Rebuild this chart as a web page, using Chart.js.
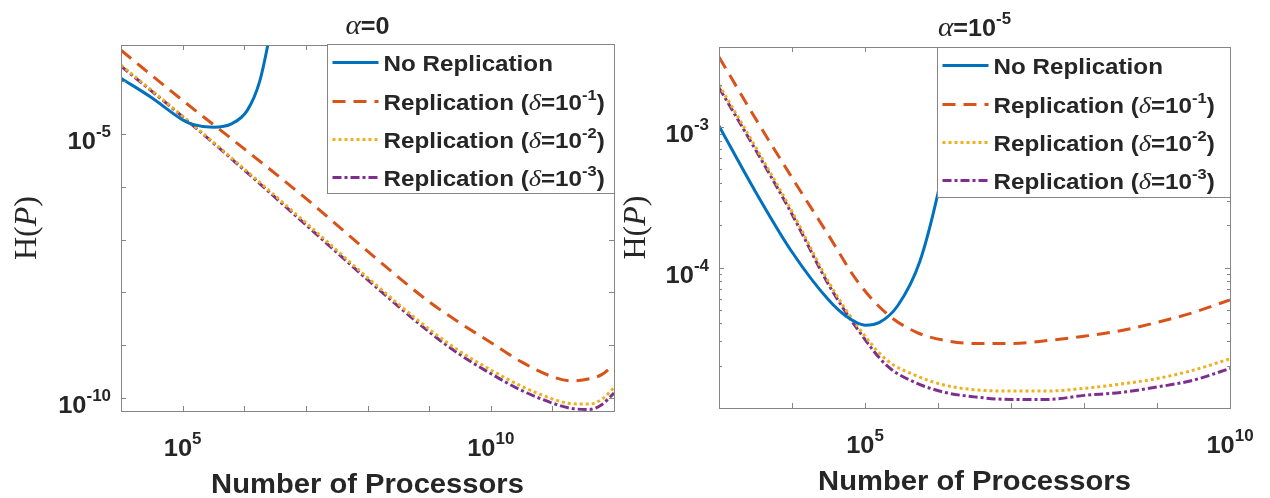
<!DOCTYPE html>
<html>
<head>
<meta charset="utf-8">
<script src="https://cdn.jsdelivr.net/npm/chart.js@4.4.0/dist/chart.umd.min.js"></script>
<style>
  html, body { margin: 0; padding: 0; background: #fff; }
  body { width: 1270px; height: 498px; position: relative; overflow: hidden; }
  canvas { position: absolute; top: 0; }
  #leftChart { left: 0; }
  #rightChart { left: 600px; }
</style>
</head>
<body>
<canvas id="leftChart" width="635" height="498"></canvas>
<canvas id="rightChart" width="670" height="498"></canvas>
<script>
// alpha = 0 (left panel)
const leftNoRepX = [1e4, 3.16e4, 1e5, 1.41e5, 3.16e5, 6.31e5, 1.12e6, 1.78e6, 2.51e6, 3.16e6];
const leftNoRepY = [1.15e-4, 4.9e-5, 1.86e-5, 1.55e-5, 1.35e-5, 1.58e-5, 2.82e-5, 1e-4, 6.31e-4, 3.16e-3];
const leftRepX = [1e4, 1e5, 1e6, 1e7, 1e8, 1e9, 3.16e9, 1e10, 3.16e10, 1e11, 2e11, 3.98e11, 6.31e11, 1e12];
const leftRep1Y = [3.89e-4, 4.37e-5, 5.25e-6, 6.03e-7, 6.03e-8, 6.61e-9, 2.63e-9, 1.12e-9, 4.79e-10, 2.51e-10, 2.09e-10, 2.29e-10, 2.75e-10, 4.27e-10];
const leftRep2Y = [2.04e-4, 2.19e-5, 2.19e-6, 2.09e-7, 1.91e-8, 2.0e-9, 7.59e-10, 3.39e-10, 1.66e-10, 9.55e-11, 7.76e-11, 7.59e-11, 9.33e-11, 1.55e-10];
const leftRep3Y = [1.95e-4, 2.14e-5, 2.09e-6, 1.91e-7, 1.74e-8, 1.78e-9, 6.61e-10, 2.88e-10, 1.38e-10, 7.94e-11, 6.31e-11, 6.03e-11, 7.41e-11, 1.23e-10];

// alpha = 1e-5 (right panel)
const rightNoRepX = [1e3, 3.16e3, 1e4, 3.16e4, 5.62e4, 1e5, 1.58e5, 2.82e5, 5.62e5, 1e6, 1.58e6, 2.51e6];
const rightNoRepY = [1.02e-3, 3.47e-4, 1.29e-4, 5.89e-5, 4.47e-5, 3.89e-5, 4.07e-5, 5.37e-5, 1.10e-4, 3.39e-4, 1.12e-3, 4.47e-3];
const rightRepX = [1e3, 3.16e3, 1e4, 3.16e4, 7.94e4, 2e5, 5.01e5, 1.26e6, 3.16e6, 1e7, 3.16e7, 1e8, 3.16e8, 1e9, 3.16e9, 1e10];
const rightRep1Y = [3.16e-3, 1.15e-3, 4.37e-4, 1.70e-4, 7.94e-5, 4.68e-5, 3.47e-5, 3.02e-5, 2.88e-5, 2.88e-5, 3.02e-5, 3.24e-5, 3.55e-5, 4.07e-5, 4.79e-5, 5.89e-5];
const rightRep2Y = [2.0e-3, 7.24e-4, 2.51e-4, 7.94e-5, 3.80e-5, 2.19e-5, 1.70e-5, 1.45e-5, 1.35e-5, 1.32e-5, 1.32e-5, 1.38e-5, 1.48e-5, 1.62e-5, 1.86e-5, 2.24e-5];
const rightRep3Y = [1.91e-3, 6.92e-4, 2.40e-4, 7.59e-5, 3.63e-5, 2.0e-5, 1.51e-5, 1.29e-5, 1.20e-5, 1.15e-5, 1.15e-5, 1.23e-5, 1.29e-5, 1.41e-5, 1.58e-5, 1.91e-5];

// axes limits and ticks
const leftXLimits = [1e4, 1e12];
const leftYLimits = [5.62e-11, 4.9e-4];
const leftXTicks = [1e4, 1e5, 1e6, 1e7, 1e8, 1e9, 1e10, 1e11, 1e12];
const leftYTicks = [1e-10, 1e-9, 1e-8, 1e-7, 1e-6, 1e-5, 1e-4];
const leftXLabels = [[1e5, '5'], [1e10, '10']];
const leftYLabels = [[1e-5, '-5'], [1e-10, '-10']];

const rightXLimits = [1e3, 1e10];
const rightYLimits = [1e-5, 3.72e-3];
const rightXTicks = [1e3, 1e4, 1e5, 1e6, 1e7, 1e8, 1e9, 1e10];
const rightYTicks = [1e-5, 1e-4, 1e-3];
const rightYMinor = [2e-5, 3e-5, 4e-5, 5e-5, 6e-5, 7e-5, 8e-5, 9e-5, 2e-4, 3e-4, 4e-4, 5e-4, 6e-4, 7e-4, 8e-4, 9e-4, 2e-3, 3e-3];
const rightXLabels = [[1e5, '5'], [1e10, '10']];
const rightYLabels = [[1e-3, '-3'], [1e-4, '-4']];

const deltaExps = ['-1', '-2', '-3'];

const BLUE = '#0072BD', ORANGE = '#D95319', YELLOW = '#EDB120', PURPLE = '#7E2F8E';
const AXIS = '#858585', TEXT = '#262626';
const SANS = '"Liberation Sans", Arial, sans-serif';
const SERIF = '"Liberation Serif", "Times New Roman", serif';
const styles = [
    { color: BLUE, dash: [] },
    { color: ORANGE, dash: [13, 8] },
    { color: YELLOW, dash: [3, 3] },
    { color: PURPLE, dash: [9, 3, 3, 3] }
];

function points(xs, ys) {
    return xs.map((x, i) => ({ x: x, y: ys[i] }));
}

function drawRich(ctx, runs, x, y, align, sx) {
    sx = sx || 1;
    let w = 0;
    runs.forEach(r => { ctx.font = r.f; r.w = ctx.measureText(r.t).width * sx; w += r.w; });
    let cx = align === 'center' ? x - w / 2 : (align === 'right' ? x - w : x);
    runs.forEach(r => {
        ctx.save();
        ctx.font = r.f;
        ctx.translate(cx, y + (r.dy || 0));
        ctx.scale(sx, 1);
        ctx.fillText(r.t, 0, 0);
        ctx.restore();
        cx += r.w;
    });
}

function powRuns(exp) {
    return [
        { t: '10', f: 'bold 24px ' + SANS },
        { t: exp, f: 'bold 16px ' + SANS, dy: -12 }
    ];
}

function legendRuns(i) {
    const main = 'bold 22px ' + SANS;
    if (i === 0) return [{ t: 'No Replication', f: main }];
    return [
        { t: 'Replication (', f: main },
        { t: 'δ', f: 'italic 24px ' + SERIF },
        { t: '=10', f: main },
        { t: deltaExps[i - 1], f: 'bold 15px ' + SANS, dy: -10 },
        { t: ')', f: main }
    ];
}

function axesPlugin(cfg) {
    return {
        id: 'matlabAxes',
        afterDatasetsDraw(chart) {
            const ctx = chart.ctx;
            const a = chart.chartArea;
            const xs = chart.scales.x, ys = chart.scales.y;
            ctx.save();
            ctx.strokeStyle = AXIS;
            ctx.lineWidth = 1;
            ctx.setLineDash([]);
            ctx.beginPath();
            cfg.xTicks.forEach(v => {
                const px = Math.round(xs.getPixelForValue(v)) + 0.5;
                ctx.moveTo(px, a.bottom); ctx.lineTo(px, a.bottom - 5);
                ctx.moveTo(px, a.top); ctx.lineTo(px, a.top + 5);
            });
            cfg.yTicks.forEach(v => {
                const py = Math.round(ys.getPixelForValue(v)) + 0.5;
                ctx.moveTo(a.left, py); ctx.lineTo(a.left + 5, py);
                ctx.moveTo(a.right, py); ctx.lineTo(a.right - 5, py);
            });
            (cfg.yMinor || []).forEach(v => {
                const py = Math.round(ys.getPixelForValue(v)) + 0.5;
                ctx.moveTo(a.left, py); ctx.lineTo(a.left + 3, py);
                ctx.moveTo(a.right, py); ctx.lineTo(a.right - 3, py);
            });
            ctx.stroke();
            ctx.strokeRect(Math.round(a.left) + 0.5, Math.round(a.top) + 0.5,
                Math.round(a.right - a.left), Math.round(a.bottom - a.top));

            // tick labels
            ctx.fillStyle = TEXT;
            cfg.xLabels.forEach(([v, e]) => {
                drawRich(ctx, powRuns(e), xs.getPixelForValue(v), a.bottom + 45, 'center', 1.06);
            });
            cfg.yLabels.forEach(([v, e]) => {
                drawRich(ctx, powRuns(e), a.left - 10, ys.getPixelForValue(v) + 15, 'right', 1.06);
            });

            // title
            const cx = (a.left + a.right) / 2;
            drawRich(ctx, cfg.title, cx, a.top - 11, 'center', 1.05);

            // x label
            drawRich(ctx, [{ t: 'Number of Processors', f: 'bold 27px ' + SANS }], cx, a.bottom + 82, 'center', 1.08);

            // y label
            ctx.save();
            ctx.translate(a.left - cfg.yLabelOffset, (a.top + a.bottom) / 2);
            ctx.rotate(-Math.PI / 2);
            ctx.textBaseline = 'middle';
            drawRich(ctx, [
                { t: 'H(', f: '32px ' + SERIF },
                { t: 'P', f: 'italic 32px ' + SERIF },
                { t: ')', f: '32px ' + SERIF }
            ], 0, 0, 'center');
            ctx.restore();

            // legend box
            const lw = cfg.legendW, lh = cfg.legendH;
            const lx = Math.round(a.right - lw) + 0.5, ly = Math.round(a.top + cfg.legendDy) + 0.5;
            ctx.fillStyle = '#fff';
            ctx.fillRect(lx, ly, lw, lh);
            ctx.strokeStyle = AXIS;
            ctx.strokeRect(lx, ly, lw, lh);
            const rows = [18, 57, 95, 133];
            rows.forEach((ry, i) => {
                const yy = ly + ry;
                ctx.save();
                ctx.strokeStyle = styles[i].color;
                ctx.lineWidth = 3;
                ctx.setLineDash(styles[i].dash);
                ctx.beginPath();
                ctx.moveTo(lx + 5, yy);
                ctx.lineTo(lx + 51, yy);
                ctx.stroke();
                ctx.restore();
                ctx.fillStyle = TEXT;
                drawRich(ctx, legendRuns(i), lx + 56, yy + 8, 'left', 1.1);
            });
            ctx.restore();
        }
    };
}

function makeDatasets(noRepX, noRepY, repX, repYs) {
    const sets = [points(noRepX, noRepY)].concat(repYs.map(ys => points(repX, ys)));
    return sets.map((d, i) => ({
        data: d,
        borderColor: styles[i].color,
        borderDash: styles[i].dash,
        borderWidth: 3,
        borderCapStyle: 'butt',
        pointRadius: 0,
        fill: false,
        cubicInterpolationMode: 'monotone',
        clip: 0
    }));
}

function makeChart(id, datasets, xLim, yLim, padding, cfg) {
    return new Chart(document.getElementById(id).getContext('2d'), {
        type: 'line',
        data: { datasets: datasets },
        options: {
            responsive: false,
            animation: false,
            devicePixelRatio: 1,
            layout: { padding: padding },
            plugins: { legend: { display: false }, tooltip: { enabled: false } },
            scales: {
                x: { type: 'logarithmic', min: xLim[0], max: xLim[1], display: false, bounds: 'data' },
                y: { type: 'logarithmic', min: yLim[0], max: yLim[1], display: false, bounds: 'data' }
            }
        },
        plugins: [axesPlugin(cfg)]
    });
}

makeChart('leftChart',
    makeDatasets(leftNoRepX, leftNoRepY, leftRepX, [leftRep1Y, leftRep2Y, leftRep3Y]),
    leftXLimits, leftYLimits,
    { left: 121, top: 45, right: 21, bottom: 87 },
    {
        xTicks: leftXTicks, yTicks: leftYTicks, xLabels: leftXLabels, yLabels: leftYLabels,
        title: [{ t: 'α', f: 'italic 28px ' + SERIF }, { t: '=0', f: 'bold 24px ' + SANS }],
        yLabelOffset: 93, legendW: 287, legendH: 149, legendDy: -1
    });

makeChart('rightChart',
    makeDatasets(rightNoRepX, rightNoRepY, rightRepX, [rightRep1Y, rightRep2Y, rightRep3Y]),
    rightXLimits, rightYLimits,
    { left: 119, top: 47, right: 40, bottom: 90 },
    {
        xTicks: rightXTicks, yTicks: rightYTicks, yMinor: rightYMinor, xLabels: rightXLabels, yLabels: rightYLabels,
        title: [{ t: 'α', f: 'italic 28px ' + SERIF }, { t: '=10', f: 'bold 24px ' + SANS },
                { t: '-5', f: 'bold 16px ' + SANS, dy: -12 }],
        yLabelOffset: 82, legendW: 293, legendH: 150, legendDy: 0
    });
</script>
</body>
</html>
